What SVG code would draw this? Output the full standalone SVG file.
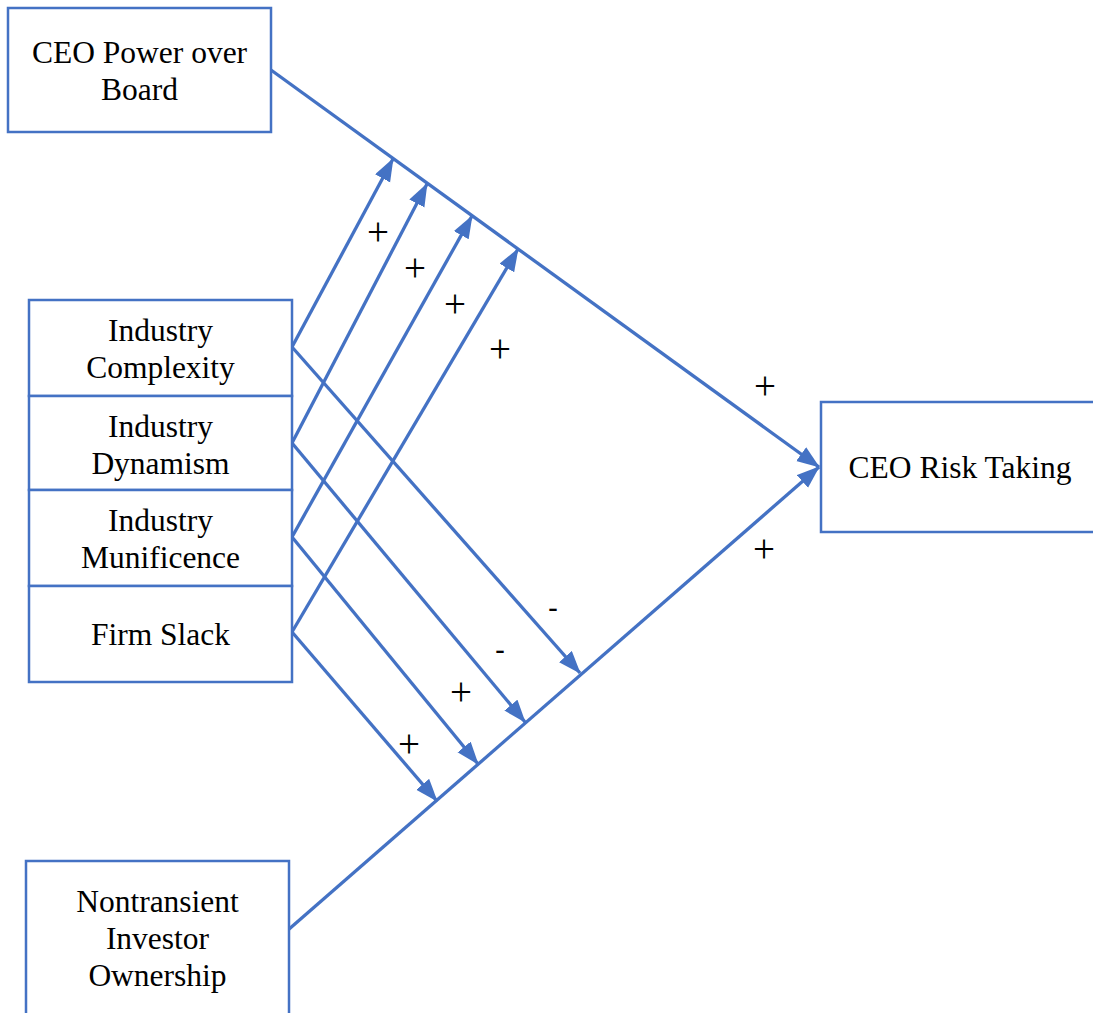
<svg xmlns="http://www.w3.org/2000/svg" width="1093" height="1013" viewBox="0 0 1093 1013">
<style>
.box{fill:#ffffff;stroke:#4472C4;stroke-width:2.5}
.t{font-family:"Liberation Serif","Times New Roman",serif;font-size:31.5px;fill:#000;text-anchor:middle}
.c{fill:none;stroke:#4472C4;stroke-width:3.3}
.a{marker-end:url(#ah)}
.p{font-family:"Liberation Serif","Times New Roman",serif;font-size:39px;fill:#000;text-anchor:middle}
.m{font-family:"Liberation Sans",Arial,sans-serif;font-size:30px;fill:#000;text-anchor:middle}
</style>
<defs>
<marker id="ah" markerUnits="userSpaceOnUse" markerWidth="26" markerHeight="20" refX="22" refY="8.5" orient="auto">
<path d="M0,0 L23,8.5 L0,17 z" fill="#4472C4"/>
</marker>
</defs>
<rect width="1093" height="1013" fill="#ffffff"/>
<g id="connectors">
<line class="c a" x1="271" y1="70" x2="819" y2="467"/>
<line class="c a" x1="288" y1="930" x2="819" y2="467"/>
<line class="c a" x1="292" y1="347" x2="393" y2="159"/>
<line class="c a" x1="292" y1="443" x2="427" y2="184"/>
<line class="c a" x1="292" y1="537" x2="472" y2="216"/>
<line class="c a" x1="292" y1="632" x2="518" y2="249"/>
<line class="c a" x1="292" y1="347" x2="580" y2="673"/>
<line class="c a" x1="292" y1="443" x2="525" y2="722"/>
<line class="c a" x1="292" y1="537" x2="478" y2="764"/>
<line class="c a" x1="292" y1="632" x2="437" y2="801"/>
</g>
<g id="labels">
<text class="p" x="378" y="245">+</text>
<text class="p" x="415" y="281">+</text>
<text class="p" x="455" y="317">+</text>
<text class="p" x="500" y="362">+</text>
<text class="p" x="765" y="399">+</text>
<text class="p" x="764" y="562">+</text>
<text class="m" x="553" y="618">-</text>
<text class="m" x="500" y="660">-</text>
<text class="p" x="461" y="705">+</text>
<text class="p" x="409" y="757">+</text>
</g>
<g id="ceo-power">
<rect class="box" x="8" y="8" width="263" height="124"/>
<text class="t" x="139.5" y="63">CEO Power over</text>
<text class="t" x="139.5" y="100">Board</text>
</g>
<g id="industry-complexity">
<rect class="box" x="29" y="300" width="263" height="96"/>
<text class="t" x="160.5" y="341">Industry</text>
<text class="t" x="160.5" y="378">Complexity</text>
</g>
<g id="industry-dynamism">
<rect class="box" x="29" y="396" width="263" height="94"/>
<text class="t" x="160.5" y="437">Industry</text>
<text class="t" x="160.5" y="474">Dynamism</text>
</g>
<g id="industry-munificence">
<rect class="box" x="29" y="490" width="263" height="96"/>
<text class="t" x="160.5" y="531">Industry</text>
<text class="t" x="160.5" y="568">Munificence</text>
</g>
<g id="firm-slack">
<rect class="box" x="29" y="586" width="263" height="96"/>
<text class="t" x="160.5" y="645">Firm Slack</text>
</g>
<g id="ceo-risk">
<rect class="box" x="821" y="402" width="278" height="130"/>
<text class="t" x="960" y="478">CEO Risk Taking</text>
</g>
<g id="nontransient">
<rect class="box" x="26" y="861" width="263" height="170"/>
<text class="t" x="157.5" y="912">Nontransient</text>
<text class="t" x="157.5" y="949">Investor</text>
<text class="t" x="157.5" y="986">Ownership</text>
</g>
</svg>
